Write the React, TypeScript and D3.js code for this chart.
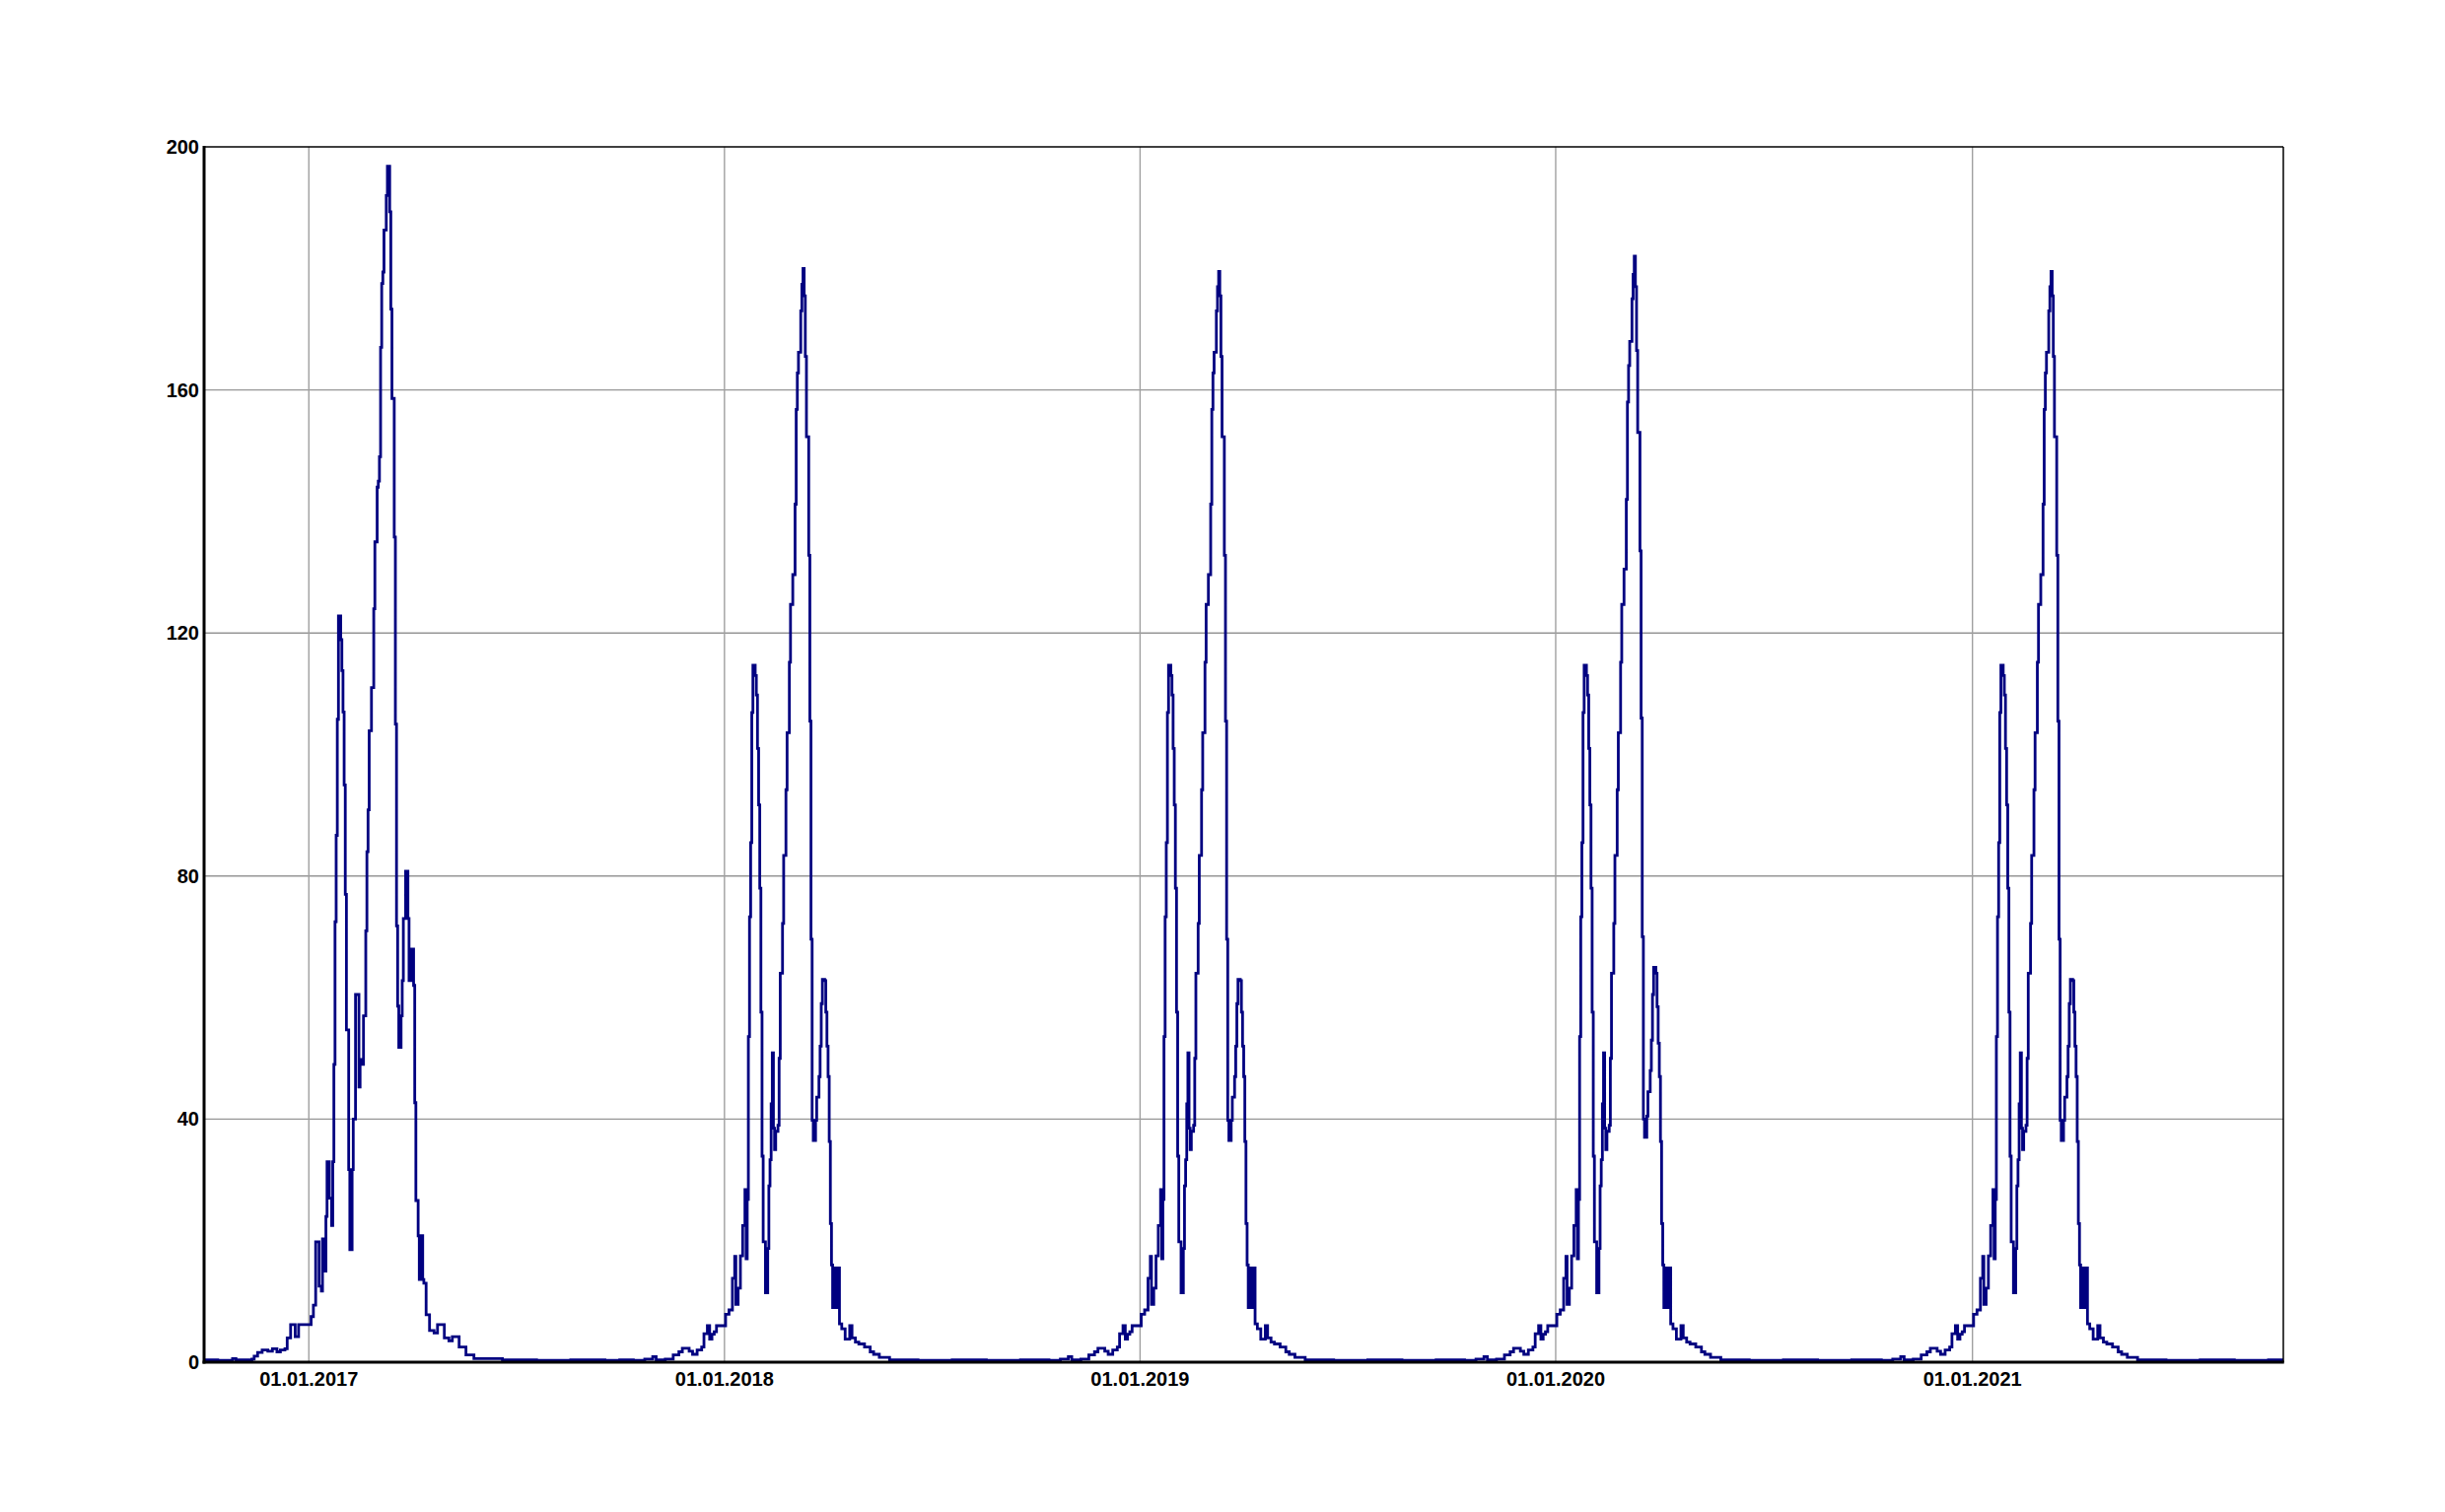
import * as d3 from 'd3';

const WIDTH = 2480;
const HEIGHT = 1534;
const margin = { top: 149, right: 164, bottom: 152, left: 207 };

const X_START = '2016-10-01';
const X_END = '2021-10-01';
const X_TICKS = ['2017-01-01', '2018-01-01', '2019-01-01', '2020-01-01', '2021-01-01'];
const Y_TICKS = [0, 40, 80, 120, 160, 200];

// day offsets from 1 January of each season year, daily values
const DAYS_2017 = [
  -92, -80, -67, -64, -50, -48, -45, -41, -36, -32, -28, -25, -21, -19, -16, -12, -9, 0, 2, 4, 6, 9, 11, 12, 14,
  15, 16, 18, 20, 21, 22, 23, 24, 25, 26, 28, 29, 30, 31, 32, 33, 35, 36, 38, 39, 41, 43, 44, 45, 47, 48, 50, 51,
  52, 53, 55, 57, 58, 60, 61, 62, 63, 64, 65, 66, 68, 69, 71, 72, 73, 75, 76, 77, 78, 79, 81, 82, 83, 85, 87, 88,
  90, 92, 93, 94, 96, 97, 99, 100, 101, 103, 106, 110, 113, 119, 123, 126, 132, 138, 145, 170, 200, 230, 260,
];
const VALUES_2017 = [
  0.4, 0.3, 0.6, 0.4, 0.5, 1.0, 1.6, 2.0, 1.8, 2.2, 1.7, 2.0, 2.2, 4.0, 6.2, 4.2, 6.2, 6.2, 7.5, 9.4, 19.8, 12.5,
  11.7, 20.3, 15.0, 24, 33, 27, 22.5, 33, 49, 72.5, 86.7, 105.8, 122.8, 118.9, 113.8, 107, 95, 77, 54.7, 31.7,
  18.5, 31.7, 40, 60.5, 60.5, 45.3, 49.8, 49, 57, 71, 84, 90.9, 103.9, 111, 124, 135, 144, 145, 149, 167, 177.5,
  179.4, 186.3, 192, 196.8, 189.3, 173.3, 158.6, 135.8, 105, 71.8, 58.6, 51.8, 57, 62.8, 73, 80.8, 73, 62.8, 68,
  62, 42.7, 26.6, 20.8, 13.6, 20.8, 13.6, 13, 7.8, 5.2, 4.8, 6.2, 4, 3.5, 4.2, 2.5, 1.2, 0.6, 0.4, 0.3, 0.4, 0.3,
];

const DAYS_LATER = [
  -92, -80, -70, -63, -60, -52, -48, -45, -40, -37, -34, -31, -28, -24, -20, -18, -15, -13, -11, -9, -7, -1, 1, 4,
  7, 9, 10, 12, 14, 16, 18, 19, 20, 21, 22, 23, 24, 25, 27, 28, 29, 30, 31, 32, 33, 34, 36, 38, 39, 40, 41, 42, 43,
  44, 45, 47, 48, 49, 51, 52, 54, 55, 57, 58, 60, 62, 63, 64, 65, 67, 68, 69, 70, 71, 72, 74, 75, 76, 77, 78, 80,
  81, 83, 84, 85, 86, 88, 89, 90, 91, 92, 93, 94, 95, 97, 98, 100, 101, 103, 106, 110, 112, 115, 118, 123, 128,
  131, 136, 145, 170, 200, 230, 260,
];
const VALUES_2018 = [
  0.4, 0.3, 0.5, 0.9, 0.4, 0.5, 0.5, 1.2, 1.7, 2.3, 2.3, 1.8, 1.3, 2.0, 2.5, 4.7, 6.0, 3.8, 4.6, 5.0, 6.0, 6.0, 7.9,
  8.6, 13.8, 17.4, 9.5, 12.2, 17.5, 22.5, 28.4, 17, 26.8, 53.6, 73.3, 85.5, 106.9, 114.7, 113, 109.8, 101, 91.7, 78,
  57.6, 33.9, 19.8, 11.4, 18.7, 29, 33.3, 42.5, 50.9, 38.5, 35, 38, 39, 50, 64, 72.2, 83.4, 94.2, 103.6, 115.2,
  124.7, 129.6, 141.2, 156.8, 162.8, 166.2, 173, 177.4, 180, 175.5, 165.5, 152.3, 132.8, 105.5, 69.6, 39.8, 36.5,
  39.8, 43.6, 47, 52, 59, 63, 62.8, 57.6, 52, 47, 36.3, 22.8, 16, 9, 15.5, 9, 15.5, 6.3, 5.5, 3.8, 6, 4, 3.3, 3,
  2.5, 1.7, 1.3, 0.8, 0.4, 0.3, 0.4, 0.3, 0.4,
];
const VALUES_2019 = [
  0.4, 0.3, 0.5, 0.9, 0.4, 0.5, 0.5, 1.2, 1.7, 2.3, 2.3, 1.8, 1.3, 2.0, 2.5, 4.7, 6.0, 3.8, 4.6, 5.0, 6.0, 6.0, 7.9,
  8.6, 13.8, 17.4, 9.5, 12.2, 17.5, 22.5, 28.4, 17, 26.8, 53.6, 73.3, 85.5, 106.9, 114.7, 113, 109.8, 101, 91.7, 78,
  57.6, 33.9, 19.8, 11.4, 18.7, 29, 33.3, 42.5, 50.9, 38.5, 35, 38, 39, 50, 64, 72.2, 83.4, 94.2, 103.6, 115.2,
  124.7, 129.6, 141.2, 156.8, 162.8, 166.2, 173, 177, 179.5, 175.5, 165.5, 152.3, 132.8, 105.5, 69.6, 39.8, 36.5,
  39.8, 43.6, 47, 52, 59, 63, 62.8, 57.6, 52, 47, 36.3, 22.8, 16, 9, 15.5, 9, 15.5, 6.3, 5.5, 3.8, 6, 4, 3.3, 3,
  2.5, 1.7, 1.3, 0.8, 0.4, 0.3, 0.4, 0.3, 0.4,
];
const VALUES_2020 = [
  0.4, 0.3, 0.5, 0.9, 0.4, 0.5, 0.5, 1.2, 1.7, 2.3, 2.3, 1.8, 1.3, 2.0, 2.5, 4.7, 6.0, 3.8, 4.6, 5.0, 6.0, 6.0, 7.9,
  8.6, 13.8, 17.4, 9.5, 12.2, 17.5, 22.5, 28.4, 17, 26.8, 53.6, 73.3, 85.5, 106.9, 114.7, 113, 109.8, 101, 91.7, 78,
  57.6, 33.9, 19.8, 11.4, 18.7, 29, 33.3, 42.5, 50.9, 38.5, 35, 38, 39, 50, 64, 72.2, 83.4, 94.2, 103.6, 115.2,
  124.7, 130.5, 142, 158, 164, 168, 175, 179, 182, 177, 166.5, 153, 133.5, 106, 70, 40, 37, 40.5, 44.5, 48, 53,
  60.5, 65, 64, 58.5, 52.5, 47, 36.3, 22.8, 16, 9, 15.5, 9, 15.5, 6.3, 5.5, 3.8, 6, 4, 3.3, 3, 2.5, 1.7, 1.3, 0.8,
  0.4, 0.3, 0.4, 0.3, 0.4,
];
const VALUES_2021 = [
  0.4, 0.3, 0.5, 0.9, 0.4, 0.5, 0.5, 1.2, 1.7, 2.3, 2.3, 1.8, 1.3, 2.0, 2.5, 4.7, 6.0, 3.8, 4.6, 5.0, 6.0, 6.0, 7.9,
  8.6, 13.8, 17.4, 9.5, 12.2, 17.5, 22.5, 28.4, 17, 26.8, 53.6, 73.3, 85.5, 106.9, 114.7, 113, 109.8, 101, 91.7, 78,
  57.6, 33.9, 19.8, 11.4, 18.7, 29, 33.3, 42.5, 50.9, 38.5, 35, 38, 39, 50, 64, 72.2, 83.4, 94.2, 103.6, 115.2,
  124.7, 129.6, 141.2, 156.8, 162.8, 166.2, 173, 177, 179.5, 175.5, 165.5, 152.3, 132.8, 105.5, 69.6, 39.8, 36.5,
  39.8, 43.6, 47, 52, 59, 63, 62.8, 57.6, 52, 47, 36.3, 22.8, 16, 9, 15.5, 9, 15.5, 6.3, 5.5, 3.8, 6, 4, 3.3, 3,
  2.5, 1.7, 1.3, 0.8, 0.4, 0.3, 0.4, 0.3, 0.4,
];

const SEASONS = [
  { year: 2017, days: DAYS_2017, values: VALUES_2017 },
  { year: 2018, days: DAYS_LATER, values: VALUES_2018 },
  { year: 2019, days: DAYS_LATER, values: VALUES_2019 },
  { year: 2020, days: DAYS_LATER, values: VALUES_2020 },
  { year: 2021, days: DAYS_LATER, values: VALUES_2021 },
];

type Point = { date: Date; value: number };

const parse = d3.utcParse('%Y-%m-%d');
const fmt = d3.utcFormat('%d.%m.%Y');

const App = () => {
  const innerW = WIDTH - margin.left - margin.right;
  const innerH = HEIGHT - margin.top - margin.bottom;

  const x = d3.scaleUtc().domain([parse(X_START)!, parse(X_END)!]).range([margin.left, margin.left + innerW]);
  const y = d3.scaleLinear().domain([0, 200]).range([margin.top + innerH, margin.top]);

  const points: Point[] = [];
  SEASONS.forEach(s => {
    const jan1 = new Date(Date.UTC(s.year, 0, 1));
    s.days.forEach((d, i) => {
      points.push({ date: d3.utcDay.offset(jan1, d), value: s.values[i] });
    });
  });
  points.push({ date: parse(X_END)!, value: points[points.length - 1].value });

  const line = d3
    .line<Point>()
    .x(d => x(d.date))
    .y(d => y(d.value))
    .curve(d3.curveStepAfter);

  const font = '"Liberation Sans", Arial, sans-serif';
  const x0 = margin.left;
  const x1 = margin.left + innerW;
  const y0 = margin.top + innerH;
  const y1 = margin.top;

  return (
    <svg
      width={WIDTH}
      height={HEIGHT}
      style={{ position: 'absolute', left: 0, top: 0, background: '#fff' }}
    >
      <defs>
        <clipPath id="plot">
          <rect x={x0} y={y1 - 2} width={innerW} height={innerH + 2} />
        </clipPath>
      </defs>
      {/* grid */}
      {Y_TICKS.filter(t => t > 0 && t < 200).map(t => (
        <line key={t} x1={x0} x2={x1} y1={y(t)} y2={y(t)} stroke="#969696" strokeWidth={1.4} />
      ))}
      {X_TICKS.map(t => (
        <line key={t} x1={x(parse(t)!)} x2={x(parse(t)!)} y1={y1} y2={y0} stroke="#a0a0a0" strokeWidth={1.4} />
      ))}
      {/* series */}
      <path
        d={line(points) ?? ''}
        fill="none"
        stroke="#000080"
        strokeWidth={2.8}
        strokeLinejoin="miter"
        clipPath="url(#plot)"
      />
      {/* frame */}
      <line x1={x0} x2={x1} y1={y1} y2={y1} stroke="#000" strokeWidth={1.5} />
      <line x1={x1} x2={x1} y1={y1} y2={y0} stroke="#000" strokeWidth={1.5} />
      <line x1={x0} x2={x0} y1={y1 - 1} y2={y0 + 1.5} stroke="#000" strokeWidth={3} />
      <line x1={x0 - 1.5} x2={x1 + 0.75} y1={y0} y2={y0} stroke="#000" strokeWidth={3} />
      {/* y labels */}
      {Y_TICKS.map(t => (
        <text
          key={t}
          x={x0 - 5}
          y={y(t)}
          dy="0.35em"
          textAnchor="end"
          fontFamily={font}
          fontWeight="bold"
          fontSize={20}
          fill="#000"
        >
          {t}
        </text>
      ))}
      {/* x labels */}
      {X_TICKS.map(t => (
        <text
          key={t}
          x={x(parse(t)!)}
          y={y0 + 24}
          textAnchor="middle"
          fontFamily={font}
          fontWeight="bold"
          fontSize={20}
          fill="#000"
        >
          {fmt(parse(t)!)}
        </text>
      ))}
    </svg>
  );
};

export default App;
